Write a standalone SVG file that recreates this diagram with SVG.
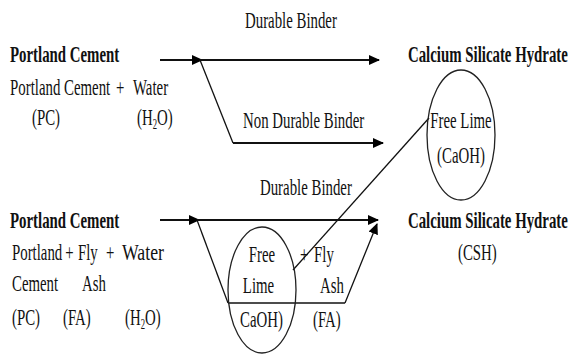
<svg xmlns="http://www.w3.org/2000/svg" width="571" height="355" viewBox="0 0 571 355">
<style>
text{font-family:'Liberation Serif','Times New Roman',serif;font-size:24px;fill:#111}
.b{font-weight:bold}
.sub{font-size:14px}
.m{text-anchor:middle}
.ln{stroke:#111;fill:none;stroke-width:1.3}
.th{stroke:#111;fill:none;stroke-width:2}
.el{stroke:#222;fill:none;stroke-width:1.3}
</style>
<defs>
<marker id="ah" markerUnits="userSpaceOnUse" markerWidth="11" markerHeight="11" viewBox="0 0 11 11" refX="10" refY="5.5" orient="auto">
<path d="M0,0.5 L11,5.5 L0,10.5 Z" fill="#000"/>
</marker>
</defs>
<rect width="571" height="355" fill="#fff"/>

<g id="connectors">
<line class="th" x1="160" y1="60" x2="202" y2="60" marker-end="url(#ah)"/>
<line class="th" x1="200" y1="60" x2="379" y2="60" marker-end="url(#ah)"/>
<line class="ln" x1="200" y1="60" x2="233" y2="143"/>
<line class="th" x1="233" y1="143" x2="383" y2="143" marker-end="url(#ah)"/>
<line class="ln" x1="429" y1="118" x2="293" y2="270"/>
<line class="th" x1="160" y1="220" x2="199" y2="220" marker-end="url(#ah)" stroke="#555"/>
<line class="th" x1="197" y1="220" x2="378" y2="220" marker-end="url(#ah)"/>
<line class="ln" x1="197" y1="220" x2="228" y2="303"/>
<line class="ln" x1="228" y1="303" x2="345" y2="303"/>
<line class="ln" x1="345" y1="303" x2="377" y2="224" marker-end="url(#ah)"/>
</g>

<g id="freelime-top-shape"><ellipse class="el" cx="461" cy="135" rx="34" ry="65"/></g>
<g id="freelime-bottom-shape"><ellipse class="el" cx="262" cy="290" rx="34" ry="63"/></g>

<g transform="scale(0.619,1)">
<g id="pc-top">
<text class="b" x="16.2" y="62">Portland Cement</text>
<text x="16.2" y="95">Portland Cement</text>
<text x="187.5" y="95">+</text>
<text x="214.9" y="95">Water</text>
<text x="51.7" y="125">(PC)</text>
<text x="221.3" y="125">(H<tspan class="sub" dy="4">2</tspan><tspan dy="-4">O)</tspan></text>
</g>

<g id="label-durable-top">
<text x="395.8" y="28">Durable Binder</text>
</g>

<g id="label-nondurable">
<text x="392.6" y="128">Non Durable Binder</text>
</g>

<g id="csh-top">
<text class="b" x="659.1" y="62">Calcium Silicate Hydrate</text>
</g>

<g id="freelime-top">
<text class="m" x="744.7" y="128">Free Lime</text>
<text class="m" x="744.7" y="163">(CaOH)</text>
</g>

<g id="label-durable-bottom">
<text x="420" y="195">Durable Binder</text>
</g>

<g id="pc-bottom">
<text class="b" x="16.2" y="228">Portland Cement</text>
<text x="19.4" y="260">Portland</text>
<text x="105.5" y="260">+</text>
<text x="126" y="260">Fly</text>
<text x="171.2" y="260">+</text>
<text x="19.4" y="291">Cement</text>
<text x="132.5" y="291">Ash</text>
<text x="19.4" y="325">(PC)</text>
<text x="101.8" y="325">(FA)</text>
<text x="201.9" y="325">(H<tspan class="sub" dy="4">2</tspan><tspan dy="-4">O)</tspan></text>
</g>

<g id="freelime-bottom">
<text class="m" x="423.3" y="262">Free</text>
<text class="m" x="417.6" y="293">Lime</text>
<text x="387.7" y="327">CaOH)</text>
</g>

<g id="flyash-bottom">
<text x="484.7" y="262">+</text>
<text x="507.3" y="262">Fly</text>
<text x="517" y="293">Ash</text>
<text x="505.7" y="327">(FA)</text>
</g>

<g id="csh-bottom">
<text class="b" x="659.1" y="228">Calcium Silicate Hydrate</text>
<text x="739.9" y="260">(CSH)</text>
</g>
</g>
<g id="pc-bottom-water">
<text transform="translate(122,260) scale(0.74,1)">Water</text>
</g>
</svg>
